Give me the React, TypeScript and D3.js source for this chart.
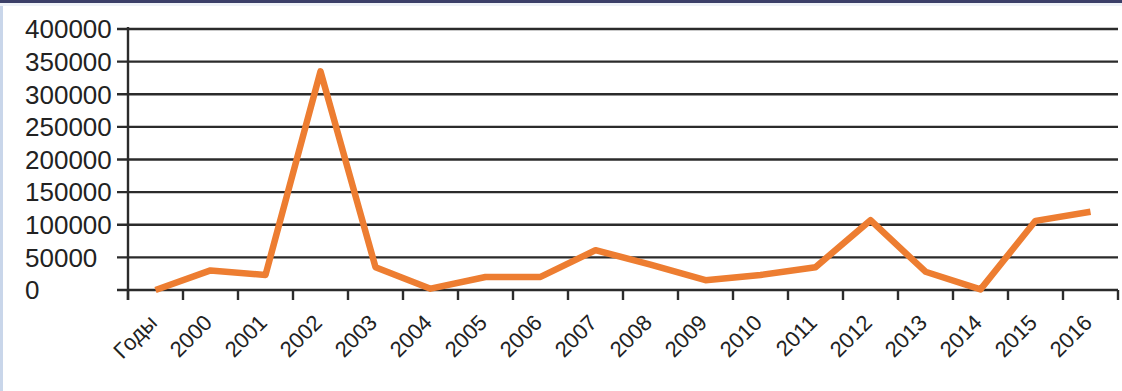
import React from "react";
import * as d3 from "d3";

const categories = ["Годы", "2000", "2001", "2002", "2003", "2004", "2005", "2006", "2007", "2008", "2009", "2010", "2011", "2012", "2013", "2014", "2015", "2016"];
const values = [0, 30000, 23000, 335000, 35000, 2000, 20000, 20000, 61000, 39000, 15000, 23000, 35000, 107000, 28000, 1000, 106000, 120000];
const yTicks = [0, 50000, 100000, 150000, 200000, 250000, 300000, 350000, 400000];

const W = 1122;
const H = 391;
const left = 128;
const right = 1118;
const top = 29;
const bottom = 290;

export default function App() {
  const x = d3.scaleBand<string>().domain(categories).range([left, right]).paddingInner(0).paddingOuter(0);
  const y = d3.scaleLinear().domain([0, 400000]).range([bottom, top]);
  const line = d3
    .line<number>()
    .x((_, i) => (x(categories[i]) as number) + x.bandwidth() / 2)
    .y((d) => y(d));
  const boundaries = categories.map((c) => x(c) as number).concat([right]);
  const font = "'Liberation Sans', Arial, sans-serif";
  return (
    <svg width={W} height={H} style={{ position: "absolute", left: 0, top: 0, background: "#fff" }}>
      <rect x={0} y={0} width={W} height={H} fill="#ffffff" />
      <rect x={0} y={0} width={3} height={H} fill="#c9d6ea" />
      <rect x={0} y={0} width={W} height={3} fill="#3b3f68" />
      <rect x={0} y={3} width={W} height={3} fill="#eef2f8" />
      {yTicks.map((t) => (
        <g key={t}>
          <line x1={117} x2={right} y1={y(t)} y2={y(t)} stroke="#2b2b2b" strokeWidth={2.4} />
          <text x={25} y={y(t)} dy="0.36em" fontFamily={font} fontSize={26} fill="#222">
            {t}
          </text>
        </g>
      ))}
      <line x1={left} x2={left} y1={top - 2} y2={bottom + 10} stroke="#2b2b2b" strokeWidth={2.4} />
      {boundaries.map((b, i) => (
        <line key={i} x1={b} x2={b} y1={bottom} y2={bottom + 10} stroke="#2b2b2b" strokeWidth={2.4} />
      ))}
      <path d={line(values) || ""} fill="none" stroke="#ED7D31" strokeWidth={6.5} strokeLinejoin="round" strokeLinecap="butt" />
      {categories.map((c) => {
        const cx = (x(c) as number) + x.bandwidth() / 2 + 3;
        const cy = 324;
        return (
          <text
            key={c}
            transform={`translate(${cx},${cy}) rotate(-45)`}
            textAnchor="end"
            fontFamily={font}
            fontSize={22}
            fill="#222"
          >
            {c}
          </text>
        );
      })}
    </svg>
  );
}
